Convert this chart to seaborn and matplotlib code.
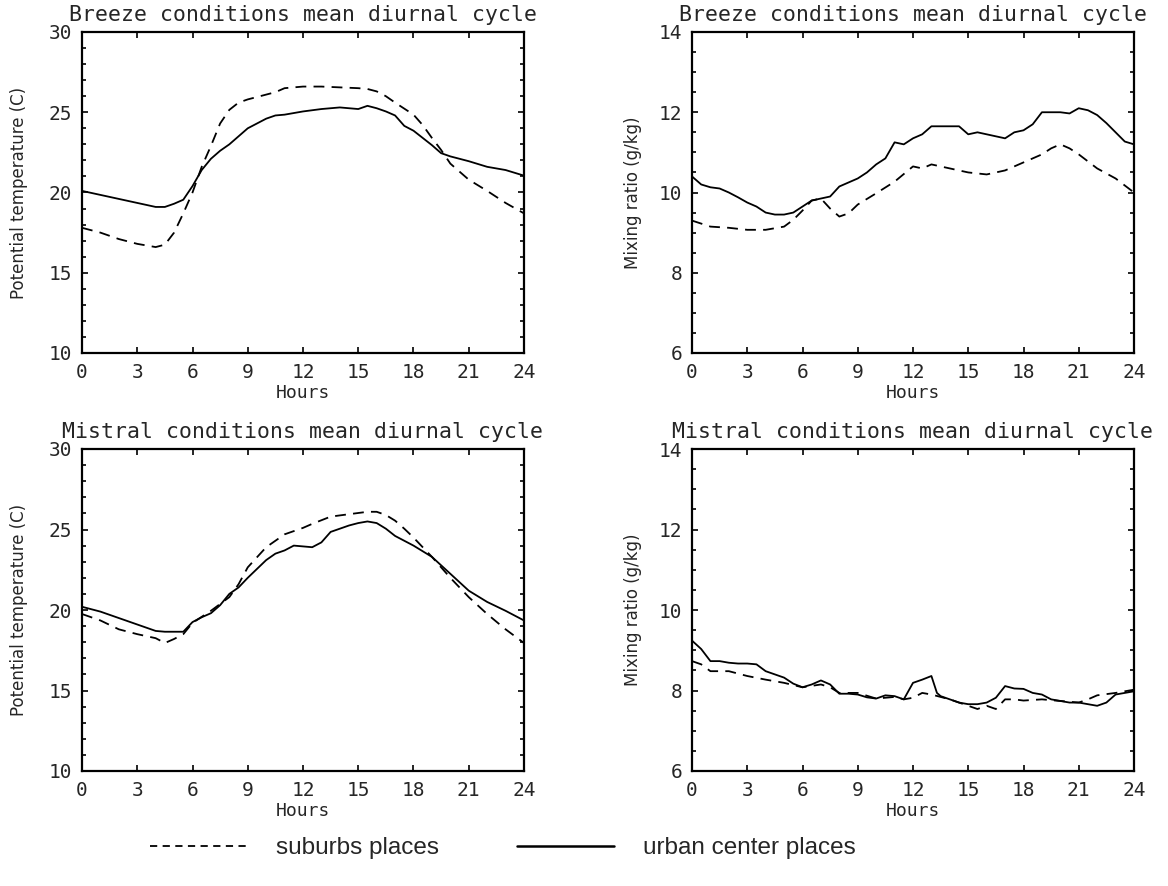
import matplotlib
matplotlib.use("Agg")
import matplotlib.pyplot as plt
from matplotlib.ticker import MultipleLocator
from matplotlib.lines import Line2D
import pandas as pd
import seaborn as sns

# breeze, potential temperature (C)
breeze_temp_urban_h = [0, 1, 2, 3, 4, 4.5, 5, 5.5, 6, 6.5, 7, 7.5, 8, 9, 10, 10.5, 11, 12, 13, 14,
                       15, 15.5, 16, 16.5, 17, 17.5, 18, 19, 19.5, 20, 21, 22, 23, 24]
breeze_temp_urban = [20.1, 19.85, 19.6, 19.35, 19.1, 19.1, 19.3, 19.55, 20.4, 21.4, 22.1, 22.6, 23.0,
                     24.0, 24.6, 24.8, 24.85, 25.05, 25.2, 25.3, 25.2, 25.4, 25.25, 25.05, 24.8, 24.15,
                     23.85, 22.95, 22.45, 22.25, 21.95, 21.6, 21.4, 21.05]
breeze_temp_sub_h = [0, 1, 2, 3, 4, 4.5, 5, 5.5, 6, 6.5, 7, 7.5, 8, 8.5, 9, 10, 10.5, 11, 12, 13, 14,
                     15, 15.5, 16, 16.5, 17, 18, 18.5, 19, 19.5, 20, 21, 22, 23, 24]
breeze_temp_sub = [17.8, 17.5, 17.1, 16.8, 16.6, 16.75, 17.5, 18.7, 20.0, 21.6, 22.9, 24.3, 25.15,
                   25.6, 25.8, 26.1, 26.25, 26.5, 26.6, 26.6, 26.55, 26.5, 26.45, 26.3, 26.0, 25.6,
                   24.85, 24.2, 23.4, 22.65, 21.8, 20.8, 20.1, 19.35, 18.7]

# breeze, mixing ratio (g/kg)
breeze_mix_urban_h = [0, 0.5, 1, 1.5, 2, 2.5, 3, 3.5, 4, 4.5, 5, 5.5, 6, 6.5, 7, 7.5, 8, 8.5, 9, 9.5,
                      10, 10.5, 11, 11.5, 12, 12.5, 13, 13.5, 14, 14.5, 15, 15.5, 16, 16.5, 17, 17.5,
                      18, 18.5, 19, 19.5, 20, 20.5, 21, 21.5, 22, 22.5, 23, 23.5, 24]
breeze_mix_urban = [10.4, 10.2, 10.13, 10.1, 10.0, 9.88, 9.75, 9.65, 9.5, 9.45, 9.45, 9.5, 9.65, 9.8,
                    9.85, 9.9, 10.15, 10.25, 10.35, 10.5, 10.7, 10.85, 11.25, 11.2, 11.35, 11.45,
                    11.65, 11.65, 11.65, 11.65, 11.45, 11.5, 11.45, 11.4, 11.35, 11.5, 11.55, 11.7,
                    12.0, 12.0, 12.0, 11.97, 12.1, 12.05, 11.93, 11.73, 11.5, 11.27, 11.2]
breeze_mix_sub_h = [0, 1, 2, 3, 4, 5, 5.5, 6, 6.5, 7, 7.5, 8, 8.5, 9, 10, 11, 12, 12.5, 13, 14, 15,
                    16, 17, 18, 19, 19.5, 20, 20.5, 21, 22, 23, 24]
breeze_mix_sub = [9.3, 9.15, 9.12, 9.07, 9.07, 9.15, 9.32, 9.55, 9.8, 9.85, 9.6, 9.4, 9.48, 9.7,
                  9.98, 10.27, 10.65, 10.6, 10.7, 10.6, 10.5, 10.45, 10.55, 10.75, 10.95, 11.1, 11.2,
                  11.1, 10.95, 10.6, 10.35, 10.0]

# mistral, potential temperature (C)
mistral_temp_urban_h = [0, 1, 2, 3, 4, 4.5, 5, 5.5, 6, 6.5, 7, 7.5, 8, 8.5, 9, 9.5, 10, 10.5, 11, 11.5,
                        12, 12.5, 13, 13.5, 14, 14.5, 15, 15.5, 16, 16.5, 17, 17.5, 18, 19, 20, 21,
                        22, 23, 24]
mistral_temp_urban = [20.2, 19.9, 19.5, 19.1, 18.7, 18.65, 18.65, 18.65, 19.25, 19.55, 19.8, 20.3,
                      21.0, 21.4, 22.0, 22.55, 23.1, 23.5, 23.7, 24.0, 23.95, 23.9, 24.2, 24.85,
                      25.05, 25.25, 25.4, 25.5, 25.4, 25.05, 24.6, 24.3, 24.0, 23.3, 22.25, 21.2,
                      20.5, 19.95, 19.35]
mistral_temp_sub_h = [0, 1, 2, 3, 4, 4.5, 5, 5.5, 6, 7, 8, 8.5, 9, 10, 11, 12, 12.5, 13.5, 14.5, 15.5,
                      16, 16.5, 17, 17.5, 18, 18.5, 19, 20, 21, 22, 23, 24]
mistral_temp_sub = [19.75, 19.35, 18.8, 18.5, 18.25, 17.95, 18.2, 18.5, 19.2, 19.95, 20.8, 21.6,
                    22.65, 23.9, 24.7, 25.1, 25.35, 25.8, 25.95, 26.1, 26.1, 25.9, 25.55, 25.05,
                    24.5, 23.9, 23.3, 22.0, 20.8, 19.75, 18.8, 17.95]

# mistral, mixing ratio (g/kg)
mistral_mix_urban_h = [0, 0.5, 1, 1.5, 2, 2.5, 3, 3.5, 4, 4.5, 5, 5.5, 6, 6.5, 7, 7.5, 8, 8.5, 9, 9.5,
                       10, 10.5, 11, 11.5, 12, 12.5, 13, 13.3, 13.5, 14, 14.5, 15, 15.5, 16, 16.5,
                       17, 17.5, 18, 18.5, 19, 19.5, 20, 20.5, 21, 21.5, 22, 22.5, 23, 23.5, 24]
mistral_mix_urban = [9.24, 9.03, 8.73, 8.73, 8.69, 8.67, 8.67, 8.65, 8.48, 8.4, 8.32, 8.17, 8.08,
                     8.15, 8.25, 8.15, 7.92, 7.92, 7.9, 7.83, 7.8, 7.88, 7.86, 7.78, 8.19, 8.27,
                     8.36, 7.94, 7.86, 7.78, 7.7, 7.66, 7.66, 7.7, 7.82, 8.11, 8.05, 8.04, 7.94,
                     7.9, 7.78, 7.74, 7.7, 7.7, 7.66, 7.62, 7.7, 7.9, 7.94, 7.98]
mistral_mix_sub_h = [0, 0.5, 1, 2, 3, 4, 5, 6, 7, 7.5, 8, 9, 10, 11, 11.5, 12, 12.5, 13, 14, 15,
                     15.5, 16, 16.5, 17, 17.5, 18, 19, 20, 21, 21.5, 22, 23, 24]
mistral_mix_sub = [8.73, 8.65, 8.48, 8.48, 8.36, 8.27, 8.19, 8.08, 8.15, 8.08, 7.94, 7.94, 7.8,
                   7.84, 7.78, 7.82, 7.94, 7.9, 7.78, 7.62, 7.54, 7.62, 7.54, 7.78, 7.78, 7.75,
                   7.78, 7.74, 7.7, 7.78, 7.88, 7.94, 8.02]

hour_ticks = list(range(0, 25, 3))
title_breeze = "Breeze conditions mean diurnal cycle"
title_mistral = "Mistral conditions mean diurnal cycle"
temp_label = "Potential temperature (C)"
mix_label = "Mixing ratio (g/kg)"

sns.set_style("ticks")
plt.rcParams["font.family"] = ["DejaVu Sans Mono", "DejaVu Sans"]

fig = plt.figure(figsize=(11.68, 8.86), dpi=100)
W, H = 1168, 886


def make_ax(x0, y0, x1, y1):
    return fig.add_axes([x0 / W, 1 - y1 / H, (x1 - x0) / W, (y1 - y0) / H])


panels = [
    (make_ax(82, 32, 524, 353), title_breeze, temp_label, (10, 30), 5, 1, -0.122,
     breeze_temp_sub_h, breeze_temp_sub, breeze_temp_urban_h, breeze_temp_urban),
    (make_ax(692, 32, 1134, 353), title_breeze, mix_label, (6, 14), 2, 0.5, -0.113,
     breeze_mix_sub_h, breeze_mix_sub, breeze_mix_urban_h, breeze_mix_urban),
    (make_ax(82, 449, 524, 771), title_mistral, temp_label, (10, 30), 5, 1, -0.122,
     mistral_temp_sub_h, mistral_temp_sub, mistral_temp_urban_h, mistral_temp_urban),
    (make_ax(692, 449, 1134, 771), title_mistral, mix_label, (6, 14), 2, 0.5, -0.113,
     mistral_mix_sub_h, mistral_mix_sub, mistral_mix_urban_h, mistral_mix_urban),
]

for ax, title, ylabel, ylim, major, minor, labx, sh, sv, uh, uv in panels:
    sub = pd.DataFrame({"hour": sh, "value": sv})
    urb = pd.DataFrame({"hour": uh, "value": uv})
    sns.lineplot(data=sub, x="hour", y="value", ax=ax, color="black", lw=1.3,
                 linestyle=(0, (6, 4)))
    sns.lineplot(data=urb, x="hour", y="value", ax=ax, color="black", lw=1.3)
    ax.set_xlim(0, 24)
    ax.set_ylim(*ylim)
    ax.set_xticks(hour_ticks)
    ax.yaxis.set_major_locator(MultipleLocator(major))
    ax.yaxis.set_minor_locator(MultipleLocator(minor))
    ax.tick_params(which="both", direction="in", top=True, right=True, width=1.2,
                   color="black", labelsize=14, pad=7)
    ax.tick_params(which="major", length=4)
    ax.tick_params(which="minor", length=3)
    for s in ax.spines.values():
        s.set_linewidth(1.6)
        s.set_color("black")
    ax.set_title(title, fontsize=15.5, pad=8)
    ax.set_xlabel("Hours", fontsize=13, labelpad=2)
    ax.set_ylabel(ylabel, fontsize=12, family="DejaVu Sans")
    ax.yaxis.set_label_coords(labx, 0.5)

handles = [Line2D([], [], color="black", lw=1.3, linestyle=(0, (4, 3))),
           Line2D([], [], color="black", lw=1.8)]
fig.legend(handles, ["suburbs places", "urban center places"], ncol=2, frameon=False,
           loc="center", bbox_to_anchor=(503 / W, 1 - 848 / H), handlelength=4.0,
           handletextpad=1.2, columnspacing=3.2,
           prop={"family": "Liberation Sans", "size": 17.5})

fig.savefig("out.png", dpi=100)
